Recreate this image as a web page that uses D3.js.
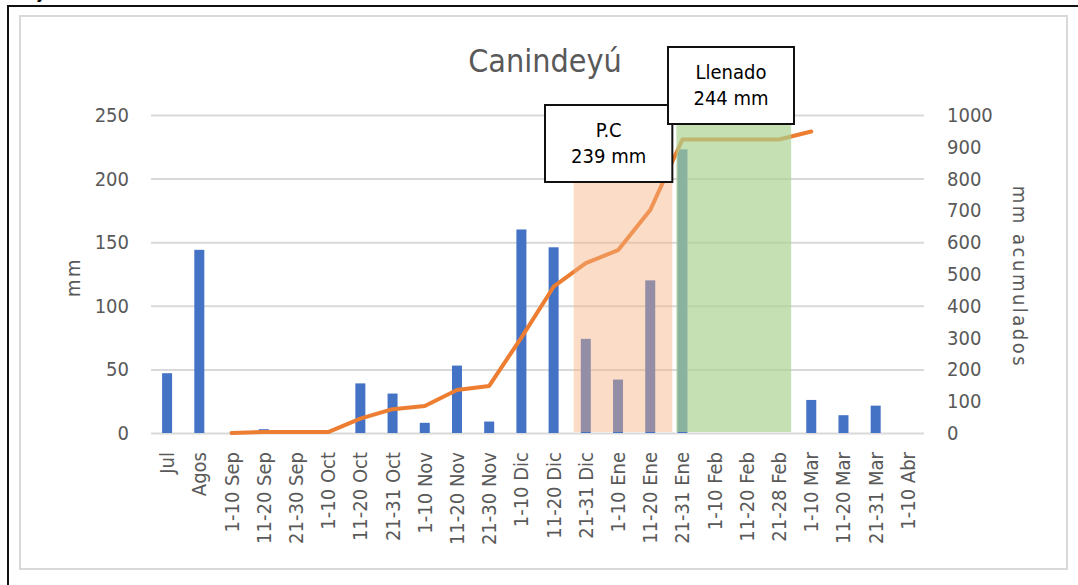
<!DOCTYPE html>
<html>
<head>
<meta charset="utf-8">
<script src="https://cdn.jsdelivr.net/npm/d3@7"></script>
<style>
  body { margin: 0; background: #fff; }
  text { font-family: "DejaVu Sans Condensed", "DejaVu Sans", sans-serif; }
</style>
</head>
<body>
<div id="app"></div>
<script>
const categories = ["Jul", "Agos", "1-10 Sep", "11-20 Sep", "21-30 Sep", "1-10 Oct", "11-20 Oct",
  "21-31 Oct", "1-10 Nov", "11-20 Nov", "21-30 Nov", "1-10 Dic", "11-20 Dic", "21-31 Dic",
  "1-10 Ene", "11-20 Ene", "21-31 Ene", "1-10 Feb", "11-20 Feb", "21-28 Feb", "1-10 Mar",
  "11-20 Mar", "21-31 Mar", "1-10 Abr"];
const rainMm = [47, 144, 0, 3, 0, 0, 39, 31, 8, 53, 9, 160, 146, 74, 42, 120, 223, 0, 0, 0, 26, 14, 21.5, 0];
const cumulativeMm = [null, null, 0, 3, 3, 3, 45, 75, 85, 135, 148, 300, 460, 534, 575, 701, 923, 923, 923, 923, 948, null, null, null];
const leftTicks = [0, 50, 100, 150, 200, 250];
const rightTicks = [0, 100, 200, 300, 400, 500, 600, 700, 800, 900, 1000];
const pcRange = ["21-31 Dic", "11-20 Ene"];
const llenadoRange = ["21-31 Ene", "21-28 Feb"];
const pcLabel = ["P.C", "239 mm"];
const llenadoLabel = ["Llenado", "244 mm"];

const w = 1078, h = 585;
const plotL = 151, plotR = 924, plotT = 115, plotB = 433;
const grey = "#595959";
const tickFont = "DejaVu Sans Condensed, DejaVu Sans, sans-serif";

const svg = d3.select("#app").append("svg")
  .attr("width", w).attr("height", h);

// frames
svg.append("path").attr("d", `M8,${h} V6 H${w}`)
  .attr("fill", "none").attr("stroke", "#111").attr("stroke-width", 2);
svg.append("rect").attr("x", 20).attr("y", 16).attr("width", 1047).attr("height", 553)
  .attr("fill", "none").attr("stroke", "#d9d9d9").attr("stroke-width", 2);
svg.append("text").attr("x", 36).attr("y", -1).attr("font-size", 16).attr("font-weight", "bold").text("y");

const x = d3.scaleBand().domain(categories).range([plotL, plotR]).padding(0);
const yL = d3.scaleLinear().domain([0, 250]).range([plotB, plotT]);
const yR = d3.scaleLinear().domain([0, 1000]).range([plotB, plotT]);
const step = x.step();

// grid
svg.append("g").attr("transform", `translate(${plotL},0)`)
  .call(d3.axisLeft(yL).tickValues(leftTicks).tickSize(-(plotR - plotL)).tickFormat(""))
  .call(g => g.select(".domain").remove())
  .call(g => g.selectAll("line").attr("stroke", "#d9d9d9").attr("stroke-width", 2));

// left axis
svg.append("g").attr("transform", `translate(${plotL},0)`)
  .call(d3.axisLeft(yL).tickValues(leftTicks).tickSize(0).tickPadding(22).tickFormat(d3.format("d")))
  .call(g => g.select(".domain").remove())
  .call(g => g.selectAll("text").attr("font-size", 20).attr("fill", grey).attr("font-family", tickFont));

// right axis
svg.append("g").attr("transform", `translate(${plotR},0)`)
  .call(d3.axisRight(yR).tickValues(rightTicks).tickSize(0).tickPadding(23).tickFormat(d3.format("d")))
  .call(g => g.select(".domain").remove())
  .call(g => g.selectAll("text").attr("font-size", 20).attr("fill", grey).attr("font-family", tickFont));

// bottom axis
svg.append("g").attr("transform", `translate(0,${plotB})`)
  .call(d3.axisBottom(x).tickSize(0))
  .call(g => g.select(".domain").remove())
  .call(g => g.selectAll("text")
    .attr("transform", "rotate(-90)")
    .attr("x", -19).attr("y", 0).attr("dy", "0.35em")
    .attr("text-anchor", "end")
    .attr("font-size", 20).attr("fill", grey).attr("font-family", tickFont));

// bars
const barW = 10;
svg.selectAll(".bar").data(categories).enter().append("rect")
  .attr("class", "bar")
  .attr("x", (d) => x(d) + step / 2 - barW / 2)
  .attr("y", (d, i) => yL(rainMm[i]))
  .attr("width", barW)
  .attr("height", (d, i) => plotB - yL(rainMm[i]))
  .attr("fill", "#4472C4");

// cumulative line
const line = d3.line()
  .defined((d) => d[1] !== null)
  .x((d) => x(d[0]) + step / 2)
  .y((d) => yR(d[1]));
svg.append("path")
  .datum(categories.map((c, i) => [c, cumulativeMm[i]]))
  .attr("d", line)
  .attr("fill", "none").attr("stroke", "#ED7D31").attr("stroke-width", 4)
  .attr("stroke-linejoin", "round").attr("stroke-linecap", "round");

// shaded periods
const pcX0 = x(pcRange[0]) + 4, pcX1 = x(pcRange[1]) + step + 6;
const llX0 = x(llenadoRange[0]) + 10, llX1 = x(llenadoRange[1]) + step - 4;
const pcBox = { x0: 545, x1: pcX1, y0: 105, y1: 182 };
const llBox = { x0: 668, x1: 794, y0: 47, y1: 124 };

svg.append("rect").attr("x", pcX0).attr("y", pcBox.y1).attr("width", pcX1 - pcX0)
  .attr("height", plotB - 1 - pcBox.y1).attr("fill", "#F4B183").attr("opacity", 0.45);
svg.append("rect").attr("x", llX0).attr("y", llBox.y1).attr("width", llX1 - llX0)
  .attr("height", plotB - 1 - llBox.y1).attr("fill", "#A9D18E").attr("opacity", 0.68);

// callout boxes
function callout(b, lines) {
  svg.append("rect").attr("x", b.x0).attr("y", b.y0)
    .attr("width", b.x1 - b.x0).attr("height", b.y1 - b.y0)
    .attr("fill", "#fff").attr("stroke", "#111").attr("stroke-width", 2);
  lines.forEach((t, i) => {
    svg.append("text").attr("x", (b.x0 + b.x1) / 2).attr("y", b.y0 + 32 + i * 26)
      .attr("text-anchor", "middle").attr("font-size", 20).attr("fill", "#000").text(t);
  });
}
callout(pcBox, pcLabel);
callout(llBox, llenadoLabel);

// titles
svg.append("text").attr("x", 545).attr("y", 72).attr("text-anchor", "middle")
  .attr("font-family", "Open Sans, sans-serif").attr("font-size", 32).attr("fill", grey)
  .text("Canindeyú");
svg.append("text").attr("transform", "translate(80,277) rotate(-90)")
  .attr("text-anchor", "middle").attr("font-size", 20).attr("letter-spacing", 2.5)
  .attr("fill", grey).text("mm");
svg.append("text").attr("transform", "translate(1013,277) rotate(90)")
  .attr("text-anchor", "middle").attr("font-size", 20).attr("letter-spacing", 2.5)
  .attr("fill", grey).text("mm acumulados");
</script>
</body>
</html>
